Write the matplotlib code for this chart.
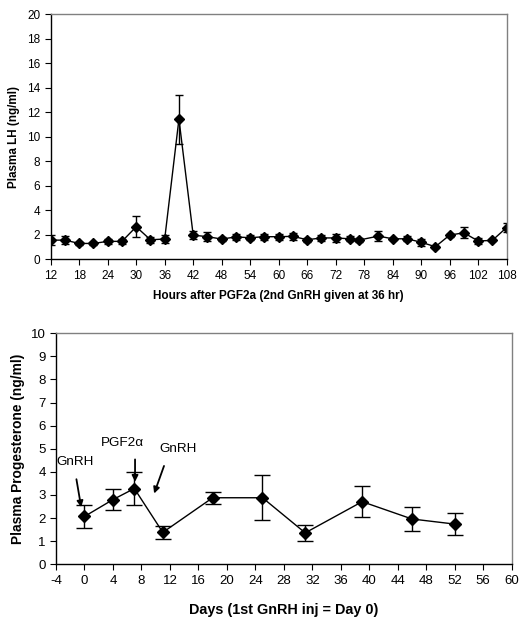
import matplotlib
matplotlib.use("Agg")
import matplotlib.pyplot as plt

plt.rcParams['font.family'] = ['Liberation Sans', 'DejaVu Sans']
plt.rcParams['axes.unicode_minus'] = False

# Top chart: Plasma LH
lh_hours = [12, 15, 18, 21, 24, 27, 30, 33, 36, 39, 42, 45, 48, 51, 54, 57, 60,
            63, 66, 69, 72, 75, 77, 81, 84, 87, 90, 93, 96, 99, 102, 105, 108]
lh_mean = [1.57, 1.57, 1.30, 1.30, 1.47, 1.47, 2.66, 1.60, 1.66, 11.45, 1.98, 1.85,
           1.66, 1.83, 1.77, 1.85, 1.85, 1.88, 1.60, 1.75, 1.75, 1.68, 1.58, 1.90,
           1.68, 1.68, 1.40, 1.03, 1.98, 2.17, 1.50, 1.55, 2.60]
lh_err = [0.38, 0.33, 0.12, 0.12, 0.23, 0.22, 0.87, 0.23, 0.31, 2.0, 0.35, 0.35,
          0.2, 0.22, 0.22, 0.25, 0.25, 0.3, 0.18, 0.22, 0.33, 0.22, 0.15, 0.38,
          0.1, 0.22, 0.28, 0.08, 0.12, 0.45, 0.22, 0.08, 0.38]
lh_xticks = list(range(12, 109, 6))
lh_yticks = list(range(0, 21, 2))

# Bottom chart: Plasma Progesterone
p4_days = [0, 4, 7, 11, 18, 25, 31, 39, 46, 52]
p4_mean = [2.07, 2.80, 3.28, 1.38, 2.88, 2.88, 1.36, 2.71, 1.96, 1.74]
p4_err = [0.50, 0.44, 0.70, 0.28, 0.25, 0.98, 0.35, 0.68, 0.54, 0.48]
p4_xticks = list(range(-4, 61, 4))
p4_yticks = list(range(0, 11, 1))

fig = plt.figure(figsize=(5.24, 6.22), dpi=100)

def style(ax):
    for s in ['left', 'bottom']:
        ax.spines[s].set_color('black')
        ax.spines[s].set_linewidth(1.0)
    for s in ['top', 'right']:
        ax.spines[s].set_color('#808080')
        ax.spines[s].set_linewidth(1.0)
    ax.tick_params(direction='out', length=4, width=0.8, color='black')

# Top axes
ax1 = fig.add_axes([0.0968, 0.583, 0.870, 0.394])
ax1.errorbar(lh_hours, lh_mean, yerr=lh_err, fmt='-D', color='black',
             markersize=4.8, linewidth=1.0, elinewidth=1.0, capsize=3, capthick=1.0)
ax1.set_xlim(12, 108)
ax1.set_ylim(0, 20)
ax1.set_xticks(lh_xticks)
ax1.set_yticks(lh_yticks)
ax1.tick_params(labelsize=8.5)
ax1.set_xlabel('Hours after PGF2a (2nd GnRH given at 36 hr)', fontsize=8.5,
               fontweight='bold', labelpad=6)
ax1.set_ylabel('Plasma LH (ng/ml)', fontsize=8.4, fontweight='bold', labelpad=5)
style(ax1)

# Bottom axes
ax2 = fig.add_axes([0.1069, 0.0928, 0.8696, 0.3714])
ax2.errorbar(p4_days, p4_mean, yerr=p4_err, fmt='-D', color='black',
             markersize=6, linewidth=1.0, elinewidth=1.0, capsize=5.5, capthick=1.0)
ax2.set_xlim(-4, 60)
ax2.set_ylim(0, 10)
ax2.set_xticks(p4_xticks)
ax2.set_yticks(p4_yticks)
ax2.tick_params(labelsize=9.5)
ax2.set_xlabel('Days (1st GnRH inj = Day 0)', fontsize=10.4, fontweight='bold',
               labelpad=12)
ax2.set_ylabel('Plasma Progesterone (ng/ml)', fontsize=9.9, fontweight='bold',
               labelpad=4)
style(ax2)

arrow = dict(arrowstyle='-|>', color='black', lw=1.3, mutation_scale=9)
ax2.annotate('', xy=(-0.4, 2.35), xytext=(-1.2, 3.8), arrowprops=arrow)
ax2.text(-1.3, 4.44, 'GnRH', fontsize=9.7, ha='center', va='center')
ax2.annotate('', xy=(7.1, 3.45), xytext=(7.1, 4.66), arrowprops=arrow)
ax2.text(5.35, 5.26, 'PGF2α', fontsize=9.7, ha='center', va='center')
ax2.annotate('', xy=(9.65, 2.95), xytext=(11.3, 4.37), arrowprops=arrow)
ax2.text(13.1, 4.98, 'GnRH', fontsize=9.7, ha='center', va='center')

fig.savefig('out.png', dpi=100)
